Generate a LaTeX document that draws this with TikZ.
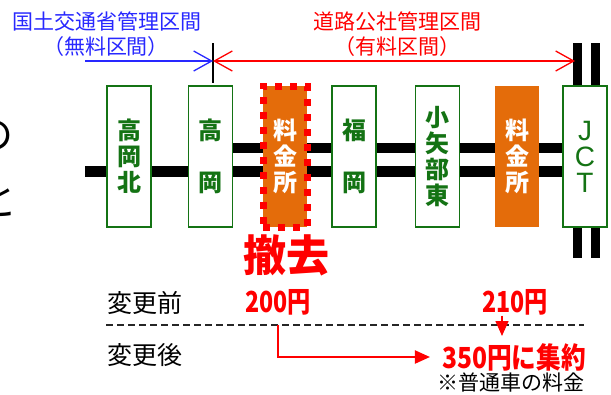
\documentclass[tikz,border=0pt]{standalone}
\usepackage{fontspec}
\setmainfont{Noto Sans CJK JP}
\newfontfamily\latinfont{Liberation Sans}
\usetikzlibrary{arrows.meta,backgrounds}
\definecolor{stgreen}{RGB}{20,115,20}
\definecolor{gateorange}{RGB}{228,108,10}
\definecolor{lblblue}{RGB}{40,40,255}
\newcommand{\narrowfare}[2][0.8]{\scalebox{#1}[1]{#2}}

\begin{document}
\begin{tikzpicture}[x=1pt, y=-1pt,
				    station/.style={draw=stgreen, line width=1.5pt, fill=white,
				    			  minimum width=44pt, minimum height=141pt, inner sep=0pt,
				    			  align=center, text=stgreen,
				    			  font=\fontsize{24}{26}\selectfont\bfseries},
				    gate/.style={station, draw=none, fill=gateorange, text=white},
				    removed/.style={draw=red, line width=7pt, dash pattern=on 7pt off 8pt},
				    road/.style={line width=10.5pt},
				    bar/.style={line width=9pt},
				    lbl/.style={inner sep=0pt, font=\fontsize{21}{23}\selectfont},
				    fare/.style={inner sep=0pt, text=red, font=\fontsize{29}{31}\selectfont\bfseries},
				    sectionarrow/.style={line width=1.5pt,
				    			  >={Straight Barb[length=18pt, width=20pt, line width=1.3pt]}},
				    farearrow/.style={draw=red, line width=2pt, -{Triangle[length=15pt, width=13pt]}}]
	\useasboundingbox (0, 0) rectangle (611, 394);

	% cut-off text at the left edge
	\node[font=\fontsize{40}{42}\selectfont] (cutno) at (-7, 136) {の};
	\node[font=\fontsize{40}{42}\selectfont] (cutto) at (-2, 200) {と};

	% stations and toll gates
	\node[station] (kitaokita) at (129, 156.5) {高\\岡\\北};
	\node[station] (takaoka) at (210.5, 156.5) {高\\[26pt]岡};
	\node[gate, removed] (gateold) at (285, 156.5) {料\\金\\所};
	\node[station] (fukuoka) at (354, 156.5) {福\\[26pt]岡};
	\node[station] (oyabe) at (437.5, 156.5) {小\\矢\\部\\東};
	\node[gate] (gatenew) at (517, 156.5) {料\\金\\所};
	\node[station, font=\fontsize{28}{26}\selectfont\latinfont] (jct) at (585, 156.5) {J\\C\\T};

	\coordinate (lower) at (85, 171.5);
	\coordinate (upper) at (0, 148);
	\begin{scope}[on background layer]
		\draw[road] (lower) -- (lower -| jct.center);
		\draw[road] (takaoka.east |- upper) -- (jct.center |- upper);
		\foreach \x in {577.5, 595.5}
			\draw[bar] (\x, 43) -- (\x, 258);
	\end{scope}

	% sections
	\node[lbl, text=lblblue] (freename) at (107, 22) {国土交通省管理区間};
	\node[lbl, text=lblblue] (freenote) at (106, 47) {（無料区間）};
	\node[lbl, text=red] (tollname) at (397, 22) {道路公社管理区間};
	\node[lbl, text=red] (tollnote) at (397, 47) {（有料区間）};

	\coordinate (boundtop) at (213, 43);
	\coordinate (boundbot) at (213, 83);
	\coordinate (freestart) at (85, 61);
	\coordinate (tollend) at (575, 61);
	\draw[line width=2pt] (boundtop) -- (boundbot);
	\draw[sectionarrow, draw=lblblue, ->] (freestart) -- (freestart -| boundtop);
	\draw[sectionarrow, draw=red, <->] (freestart -| boundtop) -- (tollend);

	% fares
	\node[text=red, inner sep=0pt, font=\fontsize{43}{45}\selectfont\bfseries] (tekkyo) at (286, 255) {撤去};
	\node[lbl, font=\fontsize{25}{27}\selectfont] (before) at (145, 303) {変更前};
	\node[lbl, font=\fontsize{25}{27}\selectfont] (after) at (145, 355) {変更後};
	\node[fare] (fareold) at (278, 302.5) {\narrowfare{200円}};
	\node[fare] (farejct) at (515, 302.5) {\narrowfare{210円}};
	\node[fare] (farenew) at (514, 357) {\narrowfare[0.85]{350円に集約}};
	\node[lbl] (note) at (511, 383) {※普通車の料金};

	\coordinate (splitl) at (106, 325);
	\coordinate (splitr) at (584, 325);
	\draw[line width=1.8pt, black!85, dash pattern=on 7pt off 4pt] (splitl) -- (splitr);

	\draw[farearrow, line width=1.5pt] ([xshift=-13pt]farejct.south) -- ([xshift=-13pt, yshift=7pt]farejct.south |- farenew.north);
	\draw[farearrow] (fareold.south |- splitl) |- ([xshift=-12pt]farenew.west);

\end{tikzpicture}
\end{document}
